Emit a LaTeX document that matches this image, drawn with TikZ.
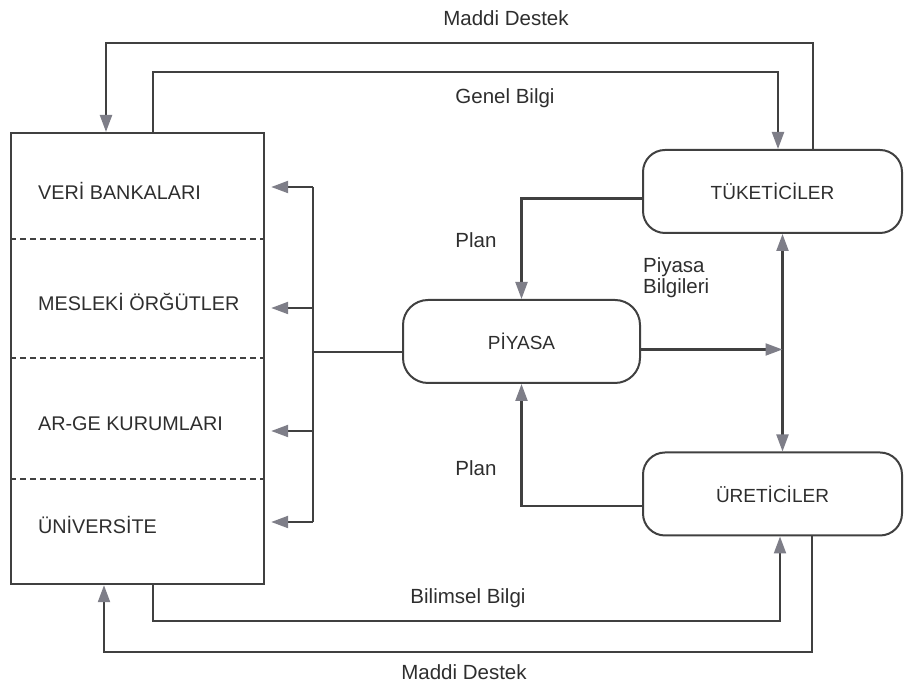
\documentclass[tikz,border=0pt]{standalone}
\usepackage{fontspec}
\setmainfont{Liberation Sans}
\usetikzlibrary{arrows.meta,positioning}
\definecolor{cizgi}{HTML}{404040}
\definecolor{okgri}{HTML}{7E7E88}
\definecolor{yazi}{HTML}{2E2E2E}
\tikzset{
  kutu/.style={draw=cizgi, line width=2pt, rounded corners=22pt, minimum width=259pt,
    minimum height=83pt, font=\fontsize{19}{21}\selectfont, text=yazi},
  bolum/.style={anchor=west, inner sep=0pt, font=\fontsize{19.8}{21}\selectfont, text=yazi},
  etiket/.style={inner sep=0pt, font=\fontsize{20.5}{21}\selectfont, text=yazi},
  ok/.style={-{Triangle[length=17pt,width=12pt,color=okgri]}},
  cift/.style={{Triangle[length=17pt,width=12pt,color=okgri]}-{Triangle[length=17pt,width=12pt,color=okgri]}},
}
\begin{document}
\begin{tikzpicture}[x=1pt,y=1pt,line width=2.2pt,color=cizgi]
\useasboundingbox (0,0) rectangle (905,684);

% kurumlar
\node[draw=cizgi, minimum width=253pt, minimum height=451pt, inner sep=0pt, anchor=north west] (kurum) at (10,552) {};
\node[bolum] (veri)   at (37,493) {VERİ BANKALARI};
\node[bolum] (meslek) at (37,382) {MESLEKİ ÖRĞÜTLER};
\node[bolum] (arge)   at (37,260) {AR-GE KURUMLARI};
\node[bolum] (uni)    at (37,159) {ÜNİVERSİTE};
\foreach \y in {445,326,205}
  \draw[dash pattern=on 6pt off 4pt] (10,\y) -- (263,\y);

% pazar
\node[kutu] (tuketici) at (772.5,492.5) {TÜKETİCİLER};
\node[kutu] (uretici)  at (772.5,190)   {ÜRETİCİLER};
\node[kutu, minimum width=237pt, rounded corners=25pt] (piyasa) at (521.5,342.5) {PİYASA};

% piyasa -> kurumlar
\coordinate (bus) at (313,332);
\foreach \y/\ad in {497/b1,376/b2,253/b3,162/b4}
  \coordinate (\ad) at (313,\y);
\draw (bus) -- (bus -| piyasa.west);
\draw (b1) -- (b4);
\foreach \ad in {b1,b2,b3,b4}
  \draw[ok, shorten >=6pt] (\ad) -- (\ad -| kurum.east);

% plan
\draw[ok] ([yshift=-7pt]tuketici.west) -| (piyasa.north);
\draw[ok] ([yshift=-12pt]uretici.west) -| (piyasa.south);
\node[etiket] (plan1) at (476,444) {Plan};
\node[etiket] (plan2) at (476,216) {Plan};

% piyasa bilgileri
\coordinate (dikey) at ([xshift=10pt]tuketici.south);
\draw[cift] (dikey) -- (dikey |- uretici.north);
\draw[ok] ([yshift=-8pt]piyasa.east) -- ([yshift=-8pt]piyasa.east -| dikey);
\node[etiket, anchor=west, align=left] (bilgi) at (642,406) {Piyasa\\Bilgileri};

% ust baglantilar
\coordinate (m1) at (106,641);
\coordinate (m2) at (813,641);
\draw[ok] (m2 |- tuketici.north) -- (m2) -- (m1) -- (m1 |- kurum.north);
\coordinate (g1) at (153,612);
\coordinate (g2) at (778,612);
\draw[ok] (g1 |- kurum.north) -- (g1) -- (g2) -- (g2 |- tuketici.north);
\node[etiket] (madde1) at (506,666) {Maddi Destek};
\node[etiket] (genel)  at (505,586) {Genel Bilgi};

% alt baglantilar
\coordinate (s1) at (153,63);
\coordinate (s2) at (780,63);
\draw[ok] (s1 |- kurum.south) -- (s1) -- (s2) -- (s2 |- uretici.south);
\coordinate (d1) at (104,32);
\coordinate (d2) at (812,32);
\draw[ok] (d2 |- uretici.south) -- (d2) -- (d1) -- (d1 |- kurum.south);
\node[etiket] (bilimsel) at (468,86) {Bilimsel Bilgi};
\node[etiket] (madde2)   at (464,12) {Maddi Destek};
\end{tikzpicture}
\end{document}
